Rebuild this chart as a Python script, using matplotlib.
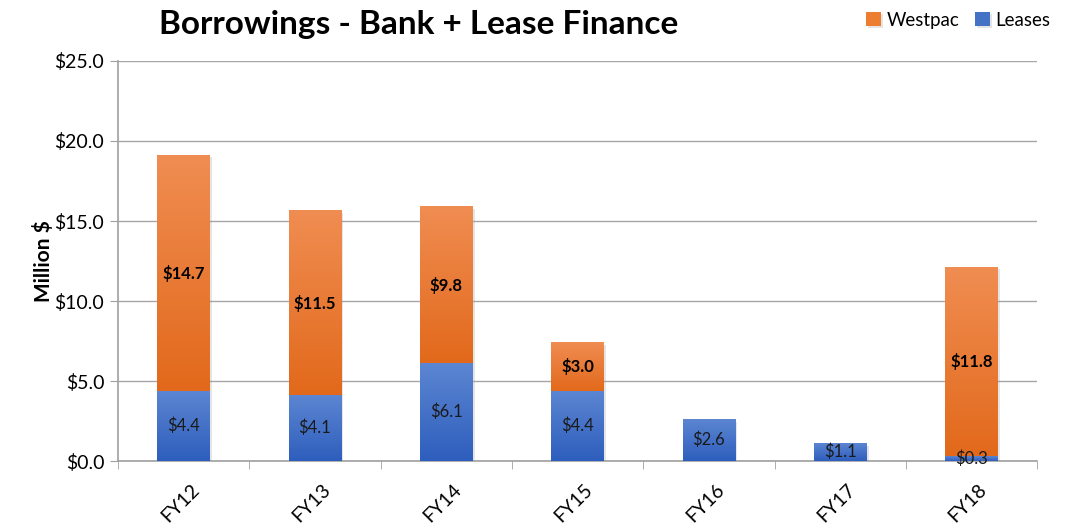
import numpy as np
import matplotlib
matplotlib.use("Agg")
import matplotlib.pyplot as plt
import matplotlib.patheffects as pe
from matplotlib.colors import LinearSegmentedColormap

plt.rcParams['font.family'] = ['Lato', 'DejaVu Sans']

years = ['FY12', 'FY13', 'FY14', 'FY15', 'FY16', 'FY17', 'FY18']
leases = [4.4, 4.1, 6.1, 4.4, 2.6, 1.1, 0.3]
westpac = [14.7, 11.5, 9.8, 3.0, 0.0, 0.0, 11.8]

orange_cmap = LinearSegmentedColormap.from_list('o', ['#E2691B', '#F08D52'])
blue_cmap = LinearSegmentedColormap.from_list('b', ['#2E5EBD', '#5C86D2'])

fig = plt.figure(figsize=(10.67, 5.29), dpi=100)
ax = fig.add_axes([0.1106, 0.1285, 0.8614, 0.7562])

x = np.arange(len(years))
shadow = [pe.SimplePatchShadow(offset=(1.5, -1.5), shadow_rgbFace='#999999', alpha=0.25), pe.Normal()]
b1 = ax.bar(x, leases, width=0.4, color='#4472C4', zorder=3, label='Leases', path_effects=shadow)
b2 = ax.bar(x, westpac, width=0.4, bottom=leases, color='#ED7D31', zorder=3, label='Westpac', path_effects=shadow)

# gradient fill on top of each bar
grad = np.linspace(0, 1, 256).reshape(-1, 1)
for bars, cmap in [(b1, blue_cmap), (b2, orange_cmap)]:
    for p in bars:
        if p.get_height() <= 0:
            p.set_visible(False)
            continue
        x0, y0, w, h = p.get_x(), p.get_y(), p.get_width(), p.get_height()
        ax.imshow(grad, extent=[x0, x0 + w, y0, y0 + h], origin='lower', aspect='auto',
                  cmap=cmap, zorder=4, interpolation='bilinear')

# value labels
for i in range(len(years)):
    ax.text(x[i], leases[i] / 2, f'${leases[i]:.1f}', ha='center', va='center',
            fontsize=12, color='#1a1a1a', zorder=6)
    if westpac[i] > 0:
        ax.text(x[i], leases[i] + westpac[i] / 2, f'${westpac[i]:.1f}', ha='center', va='center',
                fontsize=12, fontweight='bold', color='black', zorder=6)

ax.set_xlim(-0.5, len(years) - 0.5)
ax.set_ylim(0, 25)
ax.set_yticks(np.arange(0, 25.1, 5))
ax.set_yticklabels([f'${v:.1f}' for v in np.arange(0, 25.1, 5)], fontsize=14)
ax.set_xticks(x + 0.05)
ax.set_xticklabels(years, rotation=45, ha='right', rotation_mode='anchor', fontsize=14)
ax.tick_params(axis='x', length=0, pad=14)
ax.set_xticks(np.arange(-0.5, len(years)), minor=True)
ax.tick_params(axis='x', which='minor', length=6, color='#A0A0A0')
ax.tick_params(axis='y', length=6, color='#A0A0A0', pad=4)
ax.yaxis.grid(True, color='#A6A6A6', linewidth=1, zorder=0)
ax.set_axisbelow(True)
for s in ['top', 'right']:
    ax.spines[s].set_visible(False)
for s in ['left', 'bottom']:
    ax.spines[s].set_color('#A0A0A0')
    ax.spines[s].set_linewidth(1.2)

ax.set_ylabel('Million $', fontsize=15, fontweight='bold', labelpad=0)

fig.text(0.392, 0.953, 'Borrowings - Bank + Lease Finance', fontsize=24, fontweight='bold',
         ha='center', va='center')

leg = fig.legend(handles=[b2, b1], labels=['Westpac', 'Leases'], loc='upper right',
                 bbox_to_anchor=(1.0, 1.01), ncol=2, frameon=False, fontsize=13.5,
                 handlelength=0.8, handleheight=0.8, handletextpad=0.3, columnspacing=0.8)

fig.savefig('out.png', dpi=100)
